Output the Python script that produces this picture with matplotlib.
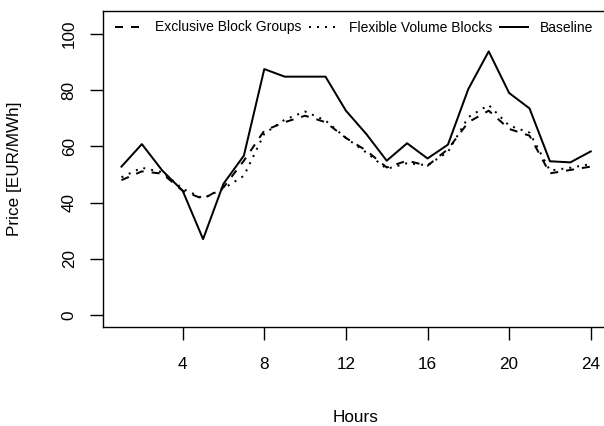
import matplotlib
matplotlib.use("Agg")
import matplotlib.pyplot as plt

hours = list(range(1, 25))
baseline = [52.8, 60.8, 51.4, 44.2, 27.0, 46.7, 56.7, 87.5, 84.8, 84.8, 84.8, 72.7,
            64.4, 54.9, 61.1, 55.7, 60.6, 80.4, 93.8, 79.0, 73.5, 54.7, 54.3, 58.2]
exclusive = [48.0, 51.1, 50.3, 44.2, 41.3, 45.4, 54.9, 65.6, 68.6, 70.9, 68.6, 63.0,
             58.5, 52.5, 54.9, 53.1, 59.0, 68.6, 72.7, 66.2, 63.8, 50.4, 51.6, 52.8]
flexible = [49.0, 52.4, 50.8, 44.9, 41.5, 45.0, 49.5, 64.5, 69.5, 72.4, 69.2, 63.0,
            57.8, 52.0, 54.0, 53.3, 58.0, 70.4, 74.7, 67.4, 64.9, 51.4, 52.4, 53.7]
xticks = [4, 8, 12, 16, 20, 24]
yticks = [0, 20, 40, 60, 80, 100]

plt.rcParams['font.family'] = ['Liberation Sans', 'DejaVu Sans']

def main():
	W, H = 604, 426
	fig = plt.figure(figsize=(W / 100, H / 100), dpi=100)
	left, right, top, bottom = 102.7, 609.5, 11, 326.7
	ax = fig.add_axes([left / W, 1 - bottom / H, (right - left) / W, (bottom - top) / H])

	lw = 1.44
	ax.plot(hours, exclusive, color='black', lw=lw, linestyle=(0, (4, 4)), label='Exclusive Block Groups')
	ax.plot(hours, flexible, color='black', lw=lw, linestyle=(0, (1, 3)), label='Flexible Volume Blocks')
	ax.plot(hours, baseline, color='black', lw=lw, linestyle='-', label='Baseline')

	ax.set_xlim(0.08, 24.92)
	ax.set_ylim(-4.16, 108.16)
	ax.set_xticks(xticks)
	ax.set_yticks(yticks)
	ax.tick_params(axis='both', direction='out', length=9.1, width=1.0, labelsize=12.3, colors='black')
	ax.tick_params(axis='x', pad=13)
	ax.tick_params(axis='y', pad=9.6)
	plt.setp(ax.get_yticklabels(), rotation=90, va='center')
	for s in ax.spines.values():
		s.set_linewidth(1.0)

	fig.text(15 / W, 1 - 168.9 / H, 'Price [EUR/MWh]', rotation=90, ha='center', va='center', fontsize=12.3)
	fig.text(356 / W, 1 - 417.5 / H, 'Hours', ha='center', va='center', fontsize=12.3)

	ax.legend(loc='upper left', bbox_to_anchor=(115 / W, 1 - 20.5 / H), bbox_transform=fig.transFigure,
		ncol=3, frameon=False, fontsize=10, handlelength=2.0, handletextpad=0.85,
		columnspacing=0.6, borderpad=0, borderaxespad=0)

	fig.savefig('out.png', dpi=100)

if __name__ == "__main__":
	main()
